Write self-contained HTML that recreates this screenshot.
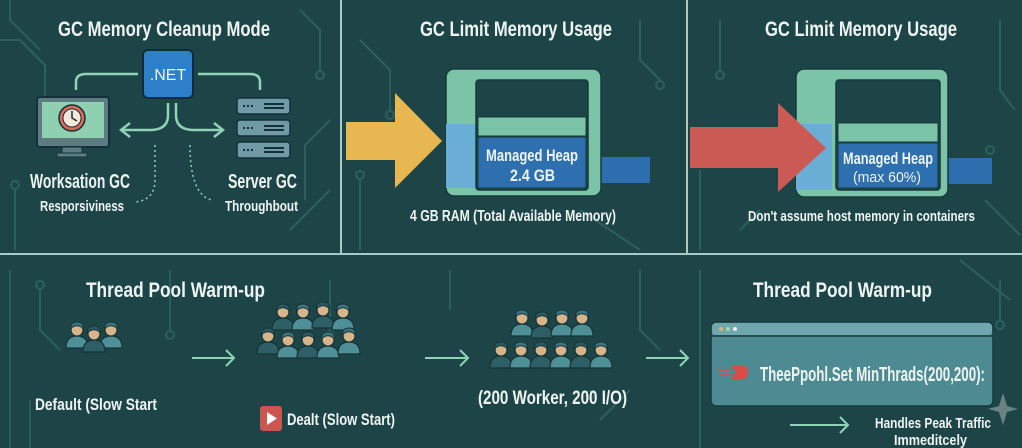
<!DOCTYPE html>
<html><head><meta charset="utf-8"><style>
html,body{margin:0;padding:0;background:#1d4547;}
svg{display:block}
text{font-family:"Liberation Sans",sans-serif;font-weight:bold;fill:#eef4f2}
</style></head><body>
<svg width="1022" height="448" viewBox="0 0 1022 448" xmlns="http://www.w3.org/2000/svg">
<defs>
<g id="p">
<path d="M0,28 Q0,16 11,16 Q22,16 22,28 Z" fill="#4f8f98" stroke="#163436" stroke-width="1.2"/>
<circle cx="11" cy="10" r="6" fill="#d8b48a" stroke="#163436" stroke-width="1.2"/>
<path d="M4.5,9 Q4,2 11,2 Q18,2 17.5,9 Q14,5 9,6 Q6,7 4.5,9Z" fill="#3a7580" stroke="#163436" stroke-width="1"/>
</g>
<g id="pd">
<path d="M0,28 Q0,16 11,16 Q22,16 22,28 Z" fill="#2f5f66" stroke="#163436" stroke-width="1.2"/>
<circle cx="11" cy="10" r="6" fill="#d8b48a" stroke="#163436" stroke-width="1.2"/>
<path d="M4.5,9 Q4,2 11,2 Q18,2 17.5,9 Q14,5 9,6 Q6,7 4.5,9Z" fill="#2c5a62" stroke="#163436" stroke-width="1"/>
</g>
</defs>
<rect width="1022" height="448" fill="#1d4547"/>
<g stroke="#2f6260" stroke-width="2" fill="none" opacity="0.9">
<path d="M0,40 L20,40 L45,65 L45,100"/><circle cx="45" cy="105" r="4"/>
<path d="M10,0 L10,20 L40,50"/><path d="M300,10 L320,30 L320,70"/><circle cx="320" cy="75" r="4"/>
<path d="M330,120 L305,145 L305,200"/><path d="M15,190 L15,250"/><circle cx="15" cy="185" r="4"/>
<path d="M290,230 L330,190"/><path d="M360,40 L390,70 L390,110"/><circle cx="390" cy="115" r="4"/>
<path d="M640,20 L640,60 L660,80"/><circle cx="660" cy="85" r="4"/><path d="M580,210 L640,250"/>
<path d="M360,180 L360,250"/><circle cx="360" cy="175" r="4"/><path d="M720,20 L720,70"/><circle cx="720" cy="75" r="4"/>
<path d="M1000,20 L1000,90 L1015,110"/><circle cx="990" cy="150" r="4"/><path d="M985,200 L1020,235"/>
<path d="M700,170 L700,250"/><path d="M740,230 L760,210"/>
<path d="M10,270 L10,448"/><path d="M40,290 L40,330 L60,350"/><circle cx="40" cy="285" r="4"/>
<path d="M170,270 L170,330"/><circle cx="170" cy="335" r="4"/><path d="M330,280 L330,330"/><circle cx="330" cy="335" r="4"/>
<path d="M450,270 L450,310"/><path d="M640,270 L640,330 L660,350"/><path d="M700,270 L700,448"/>
<path d="M1000,280 L1000,320"/><circle cx="1000" cy="325" r="4"/><path d="M600,420 L630,390"/><circle cx="590" cy="395" r="4"/>
<path d="M30,400 L30,448"/><path d="M960,260 L1010,300"/>
</g>
<g stroke="#a9c9c5" stroke-width="2">
<line x1="0" y1="254" x2="1022" y2="254"/>
<line x1="341" y1="0" x2="341" y2="254"/>
<line x1="687" y1="0" x2="687" y2="254"/>
</g>
<!-- Panel 1 -->
<text x="58" y="36" font-size="21" textLength="212" lengthAdjust="spacingAndGlyphs">GC Memory Cleanup Mode</text>
<g stroke="#8fd3b5" stroke-width="2.5" fill="none">
<path d="M76,90 L76,82 Q76,74 86,74 L138,74"/>
<path d="M198,74 L250,74 Q260,74 260,82 L260,90"/>
<path d="M168,103 L168,115 Q168,130 150,130 L122,130"/><path d="M130,123 L121,130 L130,137"/>
<path d="M176,103 L176,115 Q176,130 194,130 L222,130"/><path d="M214,123 L223,130 L214,137"/>
</g>
<g stroke="#8fd3b5" stroke-width="1.5" fill="none" stroke-dasharray="2,3">
<path d="M155,145 L155,180 Q155,200 135,202"/><path d="M190,145 Q190,195 212,200"/>
</g>
<rect x="143" y="50" width="50" height="48" rx="5" fill="#2e7fc9" stroke="#0f2c3c" stroke-width="2"/>
<text x="168" y="80" font-size="16" text-anchor="middle" style="font-weight:normal">.NET</text>
<rect x="37" y="97" width="72" height="50" rx="3" fill="#5c7c82" stroke="#14303a" stroke-width="2"/>
<rect x="42" y="102" width="62" height="36" fill="#8fd0b0"/>
<circle cx="72" cy="118" r="13" fill="#d96a55" stroke="#14303a" stroke-width="1.5"/>
<circle cx="72" cy="118" r="9" fill="#f4e9d8" stroke="#14303a" stroke-width="1"/>
<path d="M72,111 L72,118 L77,121" stroke="#14303a" stroke-width="1.5" fill="none"/>
<rect x="62" y="147" width="20" height="6" fill="#5c7c82" stroke="#14303a"/>
<rect x="57" y="153" width="30" height="4" fill="#5c7c82" stroke="#14303a"/>
<g fill="#6f9aa6" stroke="#14303a" stroke-width="1.5">
<rect x="237" y="98" width="53" height="16" rx="3"/><rect x="237" y="120" width="53" height="16" rx="3"/><rect x="237" y="142" width="53" height="16" rx="3"/>
</g>
<g stroke="#14303a" stroke-width="2">
<line x1="264" y1="104" x2="284" y2="104"/><line x1="264" y1="108" x2="284" y2="108"/>
<line x1="264" y1="126" x2="284" y2="126"/><line x1="264" y1="130" x2="284" y2="130"/>
<line x1="264" y1="148" x2="284" y2="148"/><line x1="264" y1="152" x2="284" y2="152"/>
<line x1="243" y1="106" x2="255" y2="106" stroke-dasharray="2,2"/><line x1="243" y1="128" x2="255" y2="128" stroke-dasharray="2,2"/><line x1="243" y1="150" x2="255" y2="150" stroke-dasharray="2,2"/>
</g>
<text x="30" y="188" font-size="20" textLength="100" lengthAdjust="spacingAndGlyphs">Worksation GC</text>
<text x="40" y="211" font-size="15" textLength="84" lengthAdjust="spacingAndGlyphs">Resporsiviness</text>
<text x="228" y="188" font-size="20" textLength="69" lengthAdjust="spacingAndGlyphs">Server GC</text>
<text x="225" y="211" font-size="15" textLength="73" lengthAdjust="spacingAndGlyphs">Throughbout</text>
<!-- Panel 2 -->
<text x="420" y="36" font-size="21" textLength="192" lengthAdjust="spacingAndGlyphs">GC Limit Memory Usage</text>
<path d="M346,122 L395,122 L395,93 L442,141 L395,188 L395,160 L346,160Z" fill="#e8b752"/>
<rect x="587" y="157" width="63" height="26" fill="#2d6fae"/>
<rect x="446" y="69" width="155" height="127" rx="8" fill="#7cc4a7" stroke="#163a3a" stroke-width="1.5"/>
<rect x="446" y="124" width="32" height="64" fill="#6aaed6"/>
<rect x="476" y="80" width="112" height="110" rx="3" fill="#1d4547" stroke="#163a3a" stroke-width="1.5"/>
<rect x="478" y="117" width="108" height="19" fill="#7cc4a7" stroke="#163a3a"/>
<rect x="478" y="137" width="108" height="51" fill="#2e6fb0" stroke="#163a3a"/>
<text x="486" y="161" font-size="17" textLength="92" lengthAdjust="spacingAndGlyphs">Managed Heap</text>
<text x="510" y="181" font-size="17" textLength="45" lengthAdjust="spacingAndGlyphs">2.4 GB</text>
<text x="410" y="221" font-size="16" textLength="206" lengthAdjust="spacingAndGlyphs">4 GB RAM (Total Available Memory)</text>
<!-- Panel 3 -->
<text x="765" y="36" font-size="21" textLength="192" lengthAdjust="spacingAndGlyphs">GC Limit Memory Usage</text>
<rect x="935" y="158" width="57" height="26" fill="#2d6fae"/>
<rect x="796" y="69" width="152" height="128" rx="8" fill="#7cc4a7" stroke="#163a3a" stroke-width="1.5"/>
<rect x="796" y="124" width="36" height="66" fill="#6aaed6"/>
<rect x="836" y="80" width="104" height="110" rx="3" fill="#1d4547" stroke="#163a3a" stroke-width="1.5"/>
<rect x="838" y="123" width="100" height="19" fill="#7cc4a7" stroke="#163a3a"/>
<rect x="838" y="143" width="100" height="45" fill="#2e6fb0" stroke="#163a3a"/>
<path d="M690,127 L778,127 L778,103 L826,148 L778,192 L778,168 L690,168Z" fill="#cc5a54"/>
<text x="843" y="164" font-size="17" textLength="90" lengthAdjust="spacingAndGlyphs">Managed Heap</text>
<text x="853" y="182" font-size="15" textLength="68" lengthAdjust="spacingAndGlyphs" style="font-weight:normal">(max 60%)</text>
<text x="748" y="221" font-size="15" textLength="227" lengthAdjust="spacingAndGlyphs">Don't assume host memory in containers</text>
<!-- Bottom -->
<text x="86" y="297" font-size="21" textLength="179" lengthAdjust="spacingAndGlyphs">Thread Pool Warm-up</text>
<text x="753" y="297" font-size="21" textLength="179" lengthAdjust="spacingAndGlyphs">Thread Pool Warm-up</text>
<use href="#p" x="66" y="320"/><use href="#p" x="100" y="320"/><use href="#pd" x="83" y="324"/>
<text x="35" y="410" font-size="17" textLength="122" lengthAdjust="spacingAndGlyphs">Default (Slow Start</text>
<g stroke="#8fd3b5" stroke-width="2" fill="none">
<path d="M192,358 L234,358 M226,350 L234,358 L226,366"/>
<path d="M425,358 L468,358 M460,350 L468,358 L460,366"/>
<path d="M646,358 L688,358 M680,350 L688,358 L680,366"/>
<path d="M790,425 L848,425 M840,417 L848,425 L840,433"/>
</g>
<use href="#pd" x="272" y="302"/><use href="#p" x="292" y="302"/><use href="#pd" x="312" y="300"/><use href="#p" x="332" y="302"/>
<use href="#pd" x="257" y="326"/><use href="#p" x="277" y="330"/><use href="#pd" x="297" y="330"/><use href="#p" x="317" y="330"/><use href="#p" x="338" y="326"/>
<rect x="260" y="406" width="22" height="25" rx="3" fill="#cc5550"/>
<path d="M267,412 L277,418.5 L267,425Z" fill="#fff"/>
<text x="287" y="425" font-size="17" textLength="108" lengthAdjust="spacingAndGlyphs">Dealt (Slow Start)</text>
<use href="#p" x="511" y="308"/><use href="#pd" x="531" y="310"/><use href="#p" x="551" y="308"/><use href="#p" x="571" y="308"/>
<use href="#pd" x="490" y="340"/><use href="#p" x="510" y="340"/><use href="#pd" x="530" y="340"/><use href="#p" x="550" y="340"/><use href="#pd" x="570" y="340"/><use href="#p" x="590" y="340"/>
<text x="478" y="404" font-size="19" textLength="149" lengthAdjust="spacingAndGlyphs">(200 Worker, 200 I/O)</text>
<rect x="711" y="322" width="282" height="84" rx="5" fill="#4e8a91" stroke="#173a3e" stroke-width="1.5"/>
<path d="M711,336 L993,336" stroke="#173a3e" stroke-width="1.5"/>
<rect x="712" y="323" width="280" height="12" rx="4" fill="#6fa7ae"/>
<circle cx="721" cy="329" r="2" fill="#e7b06a"/><circle cx="728" cy="329" r="2" fill="#a8d8a0"/><circle cx="735" cy="329" r="2" fill="#e8eef0"/>
<path d="M730,365 L742,365 Q748,367 748,372 Q748,378 742,380 L730,380 L736,372Z" fill="#d84c4a"/>
<line x1="718" y1="370" x2="730" y2="370" stroke="#d84c4a" stroke-width="1.5"/><line x1="720" y1="375" x2="732" y2="375" stroke="#d84c4a" stroke-width="1.5"/>
<text x="760" y="381" font-size="20" textLength="225" lengthAdjust="spacingAndGlyphs">TheePpohl.Set MinThrads(200,200):</text>
<text x="875" y="428" font-size="15" textLength="116" lengthAdjust="spacingAndGlyphs">Handles Peak Traffic</text>
<text x="894" y="445" font-size="15" textLength="73" lengthAdjust="spacingAndGlyphs">Immeditcely</text>
<path d="M1003,393 L1007,406 L1018,409 L1007,412 L1003,425 L999,412 L988,409 L999,406Z" fill="#8a9ea0" opacity="0.7"/>
</svg>
</body></html>
